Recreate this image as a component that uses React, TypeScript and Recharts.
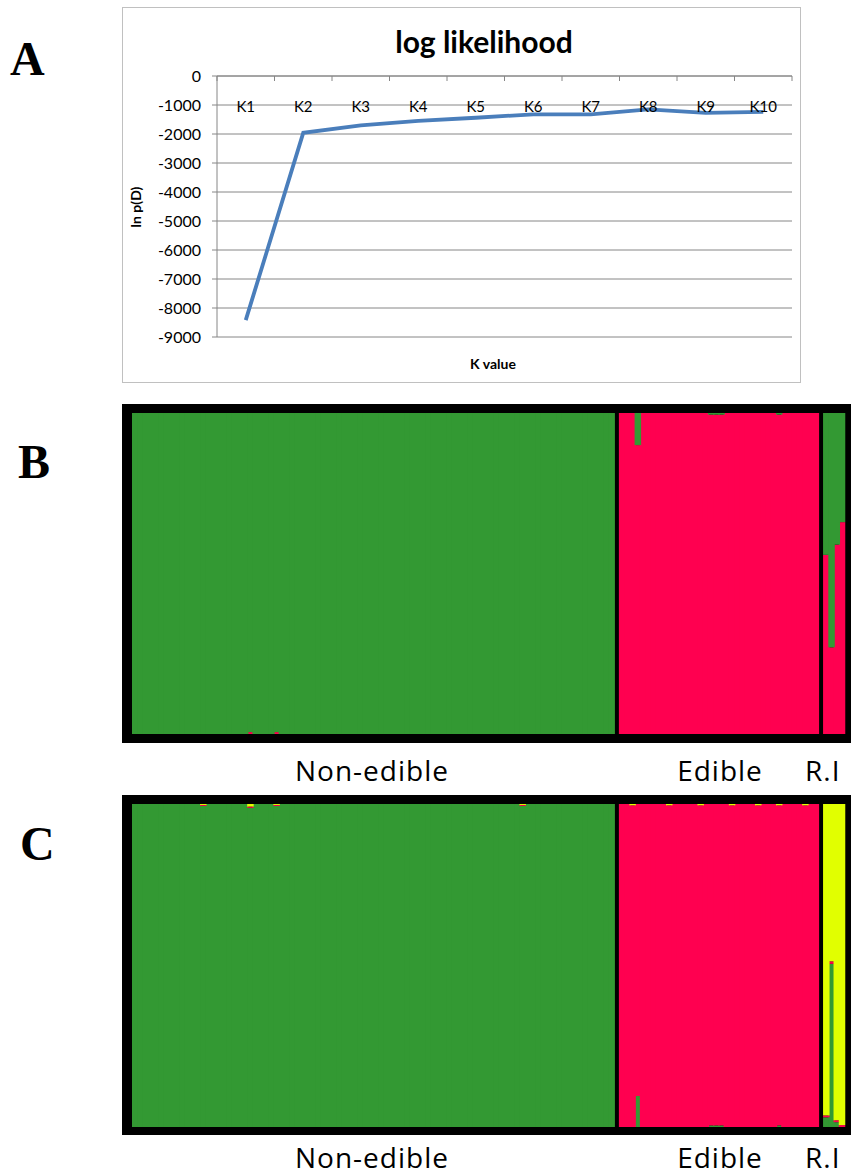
import { LineChart, Line, XAxis, YAxis, CartesianGrid, BarChart, Bar } from "recharts";

// panel A: STRUCTURE log likelihood per K
const kLabels = ["K1", "K2", "K3", "K4", "K5", "K6", "K7", "K8", "K9", "K10"];
const lnPD = [-8420, -1960, -1700, -1550, -1440, -1320, -1320, -1150, -1270, -1240];
const yTicks = [0, -1000, -2000, -3000, -4000, -5000, -6000, -7000, -8000, -9000];

// panel B (K=2): membership per individual
const bNonEdibleRed = [
  0, 0, 0, 0, 0, 0, 0, 0, 0, 0, 0, 0, 0, 0, 0, 0, 0, 0, 0, 0, 0, 0, 0.006,
  0, 0, 0, 0, 0.006, 0, 0, 0, 0, 0, 0, 0, 0, 0, 0, 0, 0, 0, 0, 0, 0, 0, 0,
  0, 0, 0, 0, 0, 0, 0, 0, 0, 0, 0, 0, 0, 0, 0, 0, 0, 0, 0, 0, 0, 0, 0,
  0, 0, 0, 0, 0, 0, 0, 0, 0, 0, 0, 0, 0, 0, 0, 0, 0, 0, 0, 0, 0, 0, 0,
];
const bEdibleGreen = [
  0, 0, 0, 0.1, 0, 0, 0, 0, 0, 0, 0, 0, 0, 0, 0, 0, 0, 0.005, 0.005, 0.005,
  0, 0, 0, 0, 0, 0, 0, 0, 0, 0, 0.005, 0, 0, 0, 0, 0, 0, 0,
];
const bRiGreen = [0.442, 0.73, 0.41, 0.34];

// panel C (K=3)
const cNonEdibleRed = [
  0, 0, 0, 0, 0, 0, 0, 0, 0, 0, 0, 0, 0, 0.003, 0, 0, 0, 0, 0, 0, 0, 0, 0.004,
  0, 0, 0, 0, 0.003, 0, 0, 0, 0, 0, 0, 0, 0, 0, 0, 0, 0, 0, 0, 0, 0, 0, 0,
  0, 0, 0, 0, 0, 0, 0, 0, 0, 0, 0, 0, 0, 0, 0, 0, 0, 0, 0, 0, 0, 0, 0,
  0, 0, 0, 0, 0, 0.003, 0, 0, 0, 0, 0, 0, 0, 0, 0, 0, 0, 0, 0, 0, 0, 0, 0,
];
const cNonEdibleYellow = [
  0, 0, 0, 0, 0, 0, 0, 0, 0, 0, 0, 0, 0, 0.003, 0, 0, 0, 0, 0, 0, 0, 0, 0.008,
  0, 0, 0, 0, 0.003, 0, 0, 0, 0, 0, 0, 0, 0, 0, 0, 0, 0, 0, 0, 0, 0, 0, 0,
  0, 0, 0, 0, 0, 0, 0, 0, 0, 0, 0, 0, 0, 0, 0, 0, 0, 0, 0, 0, 0, 0, 0,
  0, 0, 0, 0, 0, 0.003, 0, 0, 0, 0, 0, 0, 0, 0, 0, 0, 0, 0, 0, 0, 0, 0, 0,
];
const cEdibleGreen = [
  0, 0, 0, 0.096, 0, 0, 0, 0, 0, 0, 0, 0, 0, 0, 0, 0, 0, 0.005, 0.005, 0.005,
  0, 0, 0, 0, 0, 0, 0, 0, 0, 0, 0.005, 0, 0, 0, 0, 0, 0, 0,
];
const cEdibleYellow = [
  0, 0, 0.004, 0, 0, 0, 0, 0, 0, 0.004, 0, 0, 0, 0, 0, 0.004, 0, 0, 0, 0,
  0, 0.004, 0, 0, 0, 0, 0.004, 0, 0, 0, 0.004, 0, 0, 0, 0, 0.004, 0, 0,
];
const cRiGreen = [0.03, 0.505, 0.015, 0];
const cRiRed = [0.006, 0.008, 0.006, 0.006];

const groupLabels = ["Non-edible", "Edible", "R.I"];

const GREEN = "#339933";
const RED = "#ff0050";
const YELLOW = "#e1ff00";
const AXIS = "#868686";
const NARROW = "Lato, 'Open Sans', Arial, sans-serif";

const likelihoodData = kLabels.map((k, i) => ({ k, lnp: lnPD[i] }));

const A_W = 677;
const A_MARGIN = { top: 67, right: 8, bottom: 45, left: 10 };
const Y_AXIS_W = 84;
const PLOT_W = A_W - A_MARGIN.left - A_MARGIN.right - Y_AXIS_W;
const HALF_BAND = PLOT_W / kLabels.length / 2;

const bData = [
  ...bNonEdibleRed.map((r, i) => ({ id: "n" + i, red: r, green: 1 - r })),
  { id: "s1" },
  ...bEdibleGreen.map((g, i) => ({ id: "e" + i, red: 1 - g, green: g })),
  { id: "s2" },
  ...bRiGreen.map((g, i) => ({ id: "r" + i, red: 1 - g, green: g })),
];

const cData = [
  ...cNonEdibleRed.map((r, i) => ({
    id: "n" + i,
    green: 1 - r - cNonEdibleYellow[i],
    red: r,
    yellow: cNonEdibleYellow[i],
  })),
  { id: "s1" },
  ...cEdibleGreen.map((g, i) => ({
    id: "e" + i,
    green: g,
    red: 1 - g - cEdibleYellow[i],
    yellow: cEdibleYellow[i],
  })),
  { id: "s2" },
  ...cRiGreen.map((g, i) => ({
    id: "r" + i,
    green: g,
    red: cRiRed[i],
    yellow: 1 - g - cRiRed[i],
  })),
];

const KTick = (props: any) => {
  const { x, y, payload, index } = props;
  return (
    <g>
      <line x1={x - HALF_BAND} x2={x - HALF_BAND} y1={y} y2={y + 5} stroke={AXIS} />
      {index === kLabels.length - 1 && (
        <line x1={x + HALF_BAND} x2={x + HALF_BAND} y1={y} y2={y + 5} stroke={AXIS} />
      )}
      <text x={x} y={y + 36} textAnchor="middle" fontSize={15} fontFamily={NARROW} fill="#000">
        {payload.value}
      </text>
    </g>
  );
};

// slightly wider rect so neighbouring individuals don't leave hairline seams
const Seamless = (p: any) =>
  p.height > 0 ? <rect x={p.x} y={p.y} width={p.width + 1.5} height={p.height} fill={p.fill} /> : null;

const structFrame = (top: number, height: number) => ({
  position: "absolute" as const,
  left: 122,
  top,
  width: 729,
  height,
  background: "#000",
});

const App = () => {
  return (
    <div style={{ position: "absolute", left: 0, top: 0, width: 853, height: 1176, background: "#fff" }}>
      {/* A */}
      <div style={{ position: "absolute", left: 122, top: 7, border: "1px solid #c0c0c0", width: A_W, height: 374 }}>
        <LineChart width={A_W} height={374} data={likelihoodData} margin={A_MARGIN}>
          <CartesianGrid vertical={false} stroke={AXIS} />
          <XAxis
            dataKey="k"
            orientation="top"
            scale="band"
            height={1}
            tickSize={0}
            tickMargin={0}
            tickLine={false}
            axisLine={{ stroke: AXIS }}
            tick={<KTick />}
            interval={0}
          />
          <YAxis
            type="number"
            domain={[-9000, 0]}
            ticks={yTicks}
            interval={0}
            width={Y_AXIS_W}
            tickSize={5}
            tickMargin={11}
            axisLine={{ stroke: AXIS }}
            tickLine={{ stroke: AXIS }}
            tick={{ fontSize: 16, fill: "#000", fontFamily: NARROW }}
          />
          <Line
            type="linear"
            dataKey="lnp"
            stroke="#4a7ebb"
            strokeWidth={3.8}
            dot={false}
            isAnimationActive={false}
          />
        </LineChart>
      </div>

      {/* B */}
      <div style={structFrame(404, 339)}>
        <BarChart width={729} height={339} data={bData} margin={{ top: 9, right: 7, bottom: 9, left: 10 }} barCategoryGap={0} barGap={0}>
          <XAxis dataKey="id" hide />
          <YAxis hide domain={[0, 1]} />
          <Bar dataKey="red" stackId="q" fill={RED} shape={<Seamless />} isAnimationActive={false} />
          <Bar dataKey="green" stackId="q" fill={GREEN} shape={<Seamless />} isAnimationActive={false} />
        </BarChart>
      </div>

      {/* C */}
      <div style={structFrame(795, 340)}>
        <BarChart width={729} height={340} data={cData} margin={{ top: 9, right: 7, bottom: 8, left: 10 }} barCategoryGap={0} barGap={0}>
          <XAxis dataKey="id" hide />
          <YAxis hide domain={[0, 1]} />
          <Bar dataKey="green" stackId="q" fill={GREEN} shape={<Seamless />} isAnimationActive={false} />
          <Bar dataKey="red" stackId="q" fill={RED} shape={<Seamless />} isAnimationActive={false} />
          <Bar dataKey="yellow" stackId="q" fill={YELLOW} shape={<Seamless />} isAnimationActive={false} />
        </BarChart>
      </div>

      <svg width={853} height={1176} style={{ position: "absolute", left: 0, top: 0, pointerEvents: "none" }}>
        <text x={484} y={53} textAnchor="middle" fontSize={30} fontWeight="bold" fontFamily={NARROW}>
          log likelihood
        </text>
        <text x={493} y={369} textAnchor="middle" fontSize={14} fontWeight="bold" fontFamily={NARROW}>
          K value
        </text>
        <text
          x={0}
          y={0}
          transform="translate(141 207) rotate(-90)"
          textAnchor="middle"
          fontSize={14}
          fontWeight="bold"
          fontFamily={NARROW}
        >
          ln p(D)
        </text>

        <g fontFamily="'Liberation Serif', 'Times New Roman', serif" fontWeight="bold" fontSize={48}>
          <text x={10} y={75}>A</text>
          <text x={18} y={478}>B</text>
          <text x={20} y={860}>C</text>
        </g>

        <g fontFamily="'Open Sans', sans-serif" fontSize={28} letterSpacing={1} fill="#000">
          <text x={372} y={781} textAnchor="middle">{groupLabels[0]}</text>
          <text x={720} y={781} textAnchor="middle">{groupLabels[1]}</text>
          <text x={805} y={781}>{groupLabels[2]}</text>
          <text x={372} y={1168} textAnchor="middle">{groupLabels[0]}</text>
          <text x={720} y={1168} textAnchor="middle">{groupLabels[1]}</text>
          <text x={805} y={1168}>{groupLabels[2]}</text>
        </g>
      </svg>
    </div>
  );
};

export default App;
